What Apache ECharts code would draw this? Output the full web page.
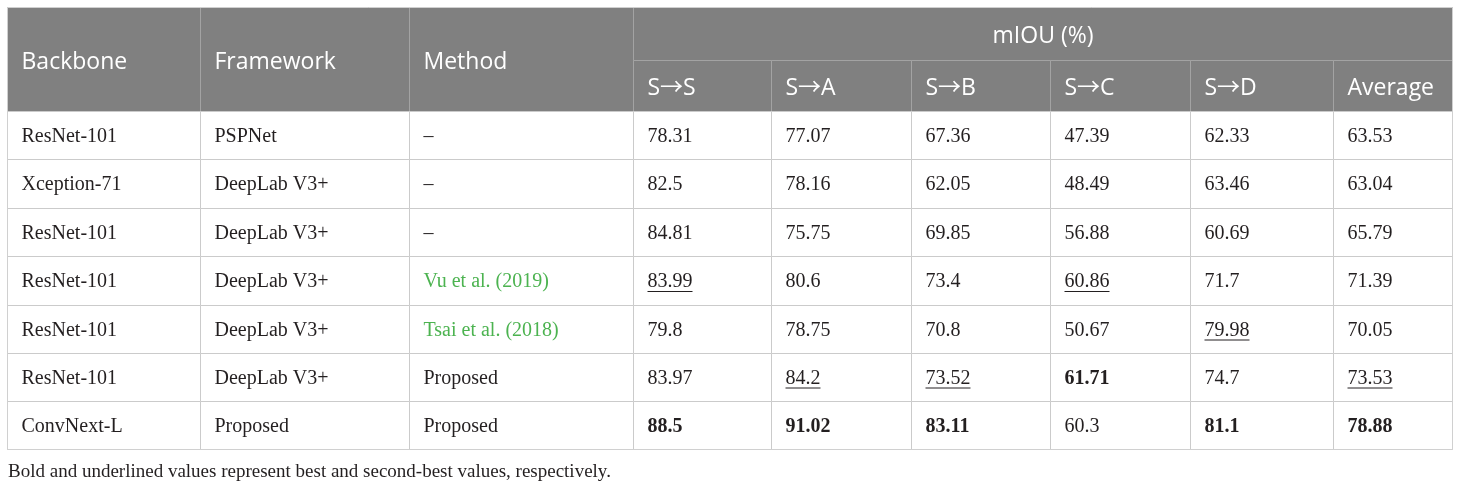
<!DOCTYPE html>
<html>
<head>
<meta charset="utf-8">
<script src="https://cdn.jsdelivr.net/npm/echarts@6/dist/echarts.min.js"></script>
<style>
  html, body { margin: 0; padding: 0; background: #ffffff; }
  #chart { width: 1460px; height: 487px; }
</style>
</head>
<body>
<div id="chart"></div>
<script>
// ---------- data ----------
const groupHeader = 'mIOU (%)';
const leftHeaders = ['Backbone', 'Framework', 'Method'];
const subHeaders = ['S→S', 'S→A', 'S→B', 'S→C', 'S→D', 'Average'];

const backbones = ['ResNet-101', 'Xception-71', 'ResNet-101', 'ResNet-101', 'ResNet-101', 'ResNet-101', 'ConvNext-L'];
const frameworks = ['PSPNet', 'DeepLab V3+', 'DeepLab V3+', 'DeepLab V3+', 'DeepLab V3+', 'DeepLab V3+', 'Proposed'];
const methods = ['–', '–', '–', 'Vu et al. (2019)', 'Tsai et al. (2018)', 'Proposed', 'Proposed'];
const citedMethod = [false, false, false, true, true, false, false];

const sToS = [78.31, 82.5, 84.81, 83.99, 79.8, 83.97, 88.5];
const sToA = [77.07, 78.16, 75.75, 80.6, 78.75, 84.2, 91.02];
const sToB = [67.36, 62.05, 69.85, 73.4, 70.8, 73.52, 83.11];
const sToC = [47.39, 48.49, 56.88, 60.86, 50.67, 61.71, 60.3];
const sToD = [62.33, 63.46, 60.69, 71.7, 79.98, 74.7, 81.1];
const average = [63.53, 63.04, 65.79, 71.39, 70.05, 73.53, 78.88];

// 'b' = best (bold), 'u' = second best (underlined)
const marksSToS = ['', '', '', 'u', '', '', 'b'];
const marksSToA = ['', '', '', '', '', 'u', 'b'];
const marksSToB = ['', '', '', '', '', 'u', 'b'];
const marksSToC = ['', '', '', 'u', '', 'b', ''];
const marksSToD = ['', '', '', '', 'u', '', 'b'];
const marksAverage = ['', '', '', '', '', 'u', 'b'];

const footnote = 'Bold and underlined values represent best and second-best values, respectively.';

// ---------- layout (not data) ----------
const colWidths = [193, 209, 224, 138, 140, 139, 140, 143, 119];
const headerHeights = [53, 51];
const bodyRowHeights = [48, 49, 48, 49, 48, 48, 48];

const colEdges = [0];
colWidths.forEach(w => colEdges.push(colEdges[colEdges.length - 1] + w));
const rowEdges = [0];
headerHeights.concat(bodyRowHeights).forEach(h => rowEdges.push(rowEdges[rowEdges.length - 1] + h));
const totalW = colEdges[colEdges.length - 1];
const totalH = rowEdges[rowEdges.length - 1];

const HEAD_FONT = '23px "Open Sans", "Noto Sans CJK SC", sans-serif';
const BODY_FONT = '20px "Liberation Serif", "Times New Roman", serif';
const BODY_BOLD = 'bold 20px "Liberation Serif", "Times New Roman", serif';
const HEAD_BG = '#808080';
const HEAD_LINE = '#a3a3a3';
const BODY_LINE = '#cbcbcb';
const TEXT = '#231f20';
const GREEN = '#4cb350';

// ---------- build cells ----------
const cells = [];
function addCell(c0, c1, r0, r1, info) {
  cells.push({ value: [colEdges[c0], colEdges[c1], rowEdges[r0], rowEdges[r1], cells.length], info: info });
}
leftHeaders.forEach((t, i) => addCell(i, i + 1, 0, 2, { text: t, head: true, align: 'left' }));
addCell(3, 9, 0, 1, { text: groupHeader, head: true, align: 'center' });
subHeaders.forEach((t, i) => addCell(3 + i, 4 + i, 1, 2, { text: t, head: true, align: 'left' }));

const valueCols = [sToS, sToA, sToB, sToC, sToD, average];
const markCols = [marksSToS, marksSToA, marksSToB, marksSToC, marksSToD, marksAverage];
backbones.forEach((b, r) => {
  const row = r + 2;
  addCell(0, 1, row, row + 1, { text: b });
  addCell(1, 2, row, row + 1, { text: frameworks[r] });
  addCell(2, 3, row, row + 1, { text: methods[r], green: citedMethod[r] });
  valueCols.forEach((col, k) => {
    const m = markCols[k][r];
    addCell(3 + k, 4 + k, row, row + 1, { text: String(col[r]), bold: m === 'b', underline: m === 'u' });
  });
});

const measureCtx = document.createElement('canvas').getContext('2d');
function textWidth(t, font) { measureCtx.font = font; return measureCtx.measureText(t).width; }

function renderItem(params, api) {
  const cell = cells[api.value(4)].info;
  const p0 = api.coord([api.value(0), api.value(2)]);
  const p1 = api.coord([api.value(1), api.value(3)]);
  const x = p0[0], y = p0[1], w = p1[0] - p0[0], h = p1[1] - p0[1];
  const font = cell.head ? HEAD_FONT : (cell.bold ? BODY_BOLD : BODY_FONT);
  const fill = cell.head ? '#ffffff' : (cell.green ? GREEN : TEXT);
  const tx = cell.align === 'center' ? x + w / 2 : x + 14;
  const ty = y + h / 2 + (cell.head ? 2.5 : 1);
  const children = [
    { type: 'rect', shape: { x: x, y: y, width: w, height: h },
      style: { fill: cell.head ? HEAD_BG : '#ffffff', stroke: cell.head ? HEAD_LINE : BODY_LINE, lineWidth: 1 } },
    { type: 'text', x: tx, y: ty,
      style: { text: cell.text, font: font, fill: fill,
               align: cell.align === 'center' ? 'center' : 'left', verticalAlign: 'middle',
               textAlign: cell.align === 'center' ? 'center' : 'left', textVerticalAlign: 'middle' } }
  ];
  if (cell.underline) {
    const tw = textWidth(cell.text, font);
    children.push({ type: 'line', shape: { x1: tx, y1: ty + 9.5, x2: tx + tw, y2: ty + 9.5 },
      style: { stroke: TEXT, lineWidth: 1 } });
  }
  return { type: 'group', children: children };
}

const chart = echarts.init(document.getElementById('chart'), null, { renderer: 'canvas' });
chart.setOption({
  backgroundColor: '#ffffff',
  animation: false,
  title: {
    text: footnote, left: 3, top: 458,
    textStyle: { fontFamily: '"Liberation Serif", "Times New Roman", serif', fontSize: 19, fontWeight: 'normal', color: TEXT }
  },
  grid: { left: 7.5, top: 7.5, width: totalW, height: totalH },
  xAxis: { type: 'value', min: 0, max: totalW, show: false },
  yAxis: { type: 'value', min: 0, max: totalH, inverse: true, show: false },
  series: [
    {
      type: 'custom',
      renderItem: renderItem,
      clip: false,
      silent: true,
      data: cells.map(c => c.value)
    },
    {
      // outer border of the table
      type: 'custom',
      silent: true,
      clip: false,
      renderItem: function (params, api) {
        const p0 = api.coord([api.value(0), api.value(1)]);
        const p1 = api.coord([api.value(2), api.value(3)]);
        return { type: 'rect', shape: { x: p0[0], y: p0[1], width: p1[0] - p0[0], height: p1[1] - p0[1] },
          style: { fill: 'none', stroke: '#d0d0d0', lineWidth: 1 } };
      },
      data: [[0, 0, totalW, totalH]]
    }
  ]
});
</script>
</body>
</html>
